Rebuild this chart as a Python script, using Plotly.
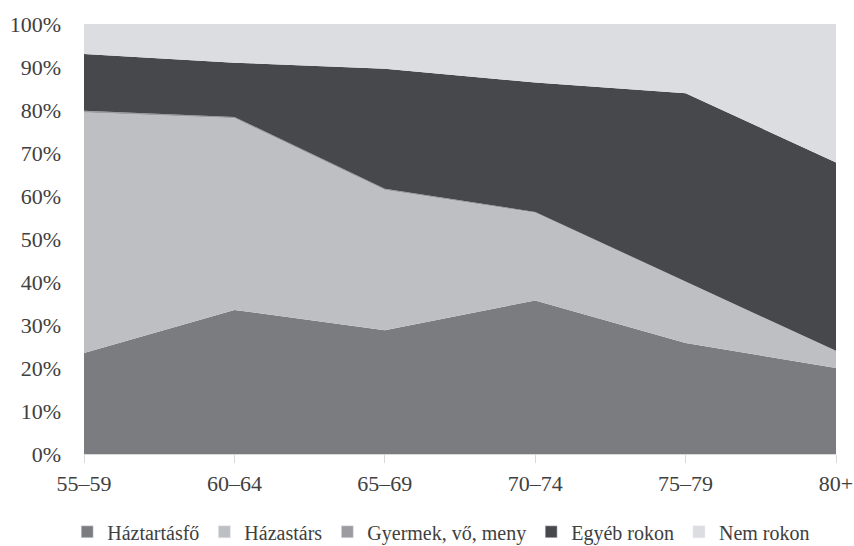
import plotly.graph_objects as go

categories = ["55–59", "60–64", "65–69", "70–74", "75–79", "80+"]
haztartasfo = [23.5, 33.5, 28.8, 35.7, 25.8, 20.0]
hazastars = [55.9, 44.6, 32.6, 20.4, 14.2, 4.0]
gyermek = [0.4, 0.3, 0.3, 0.2, 0.1, 0.0]
egyeb = [13.2, 12.6, 27.9, 30.1, 43.8, 43.8]
nem_rokon = [7.0, 9.0, 10.4, 13.6, 16.1, 32.2]

series = [
    ("Háztartásfő", haztartasfo, "#7b7c80"),
    ("Házastárs", hazastars, "#bebfc2"),
    ("Gyermek, vő, meny", gyermek, "#9c9ca0"),
    ("Egyéb rokon", egyeb, "#47484b"),
    ("Nem rokon", nem_rokon, "#dcdde0"),
]

fig = go.Figure()
for name, vals, col in series:
    fig.add_trace(go.Scatter(
        x=categories, y=vals, name=name, mode="lines",
        stackgroup="one", line=dict(width=0, color=col),
        fillcolor=col, hoverinfo="x+y+name", showlegend=False,
    ))
# legend swatches (square markers)
for name, vals, col in series:
    fig.add_trace(go.Bar(
        x=[categories[0]], y=[None], name=name, marker_color=col,
        showlegend=True, hoverinfo="skip",
    ))

font = "Liberation Serif, Times New Roman, serif"
fig.update_layout(
    width=854, height=546,
    margin=dict(l=84, r=18, t=24, b=92),
    paper_bgcolor="white", plot_bgcolor="white",
    font=dict(family=font, size=22, color="#404040"),
    showlegend=True,
    legend=dict(orientation="h", x=0.475, xanchor="center",
                yref="container", y=0.026, yanchor="middle",
                font=dict(size=20, color="#404040"),
                traceorder="normal", itemwidth=30),
    xaxis=dict(type="category", range=[0, 5], showgrid=False,
               showline=True, linecolor="#d9d9d9", linewidth=1,
               ticks="outside", ticklen=8, tickcolor="#d9d9d9",
               ticklabelstandoff=2, zeroline=False, automargin=False),
    yaxis=dict(range=[0, 100], dtick=10, ticksuffix="%", showgrid=False,
               showline=False, zeroline=False, ticklabelstandoff=22,
               automargin=False),
)

fig.write_html(
    "out.html",
    config={"displayModeBar": False},
    post_script="document.body.style.margin='0';document.body.style.overflow='hidden';",
)
